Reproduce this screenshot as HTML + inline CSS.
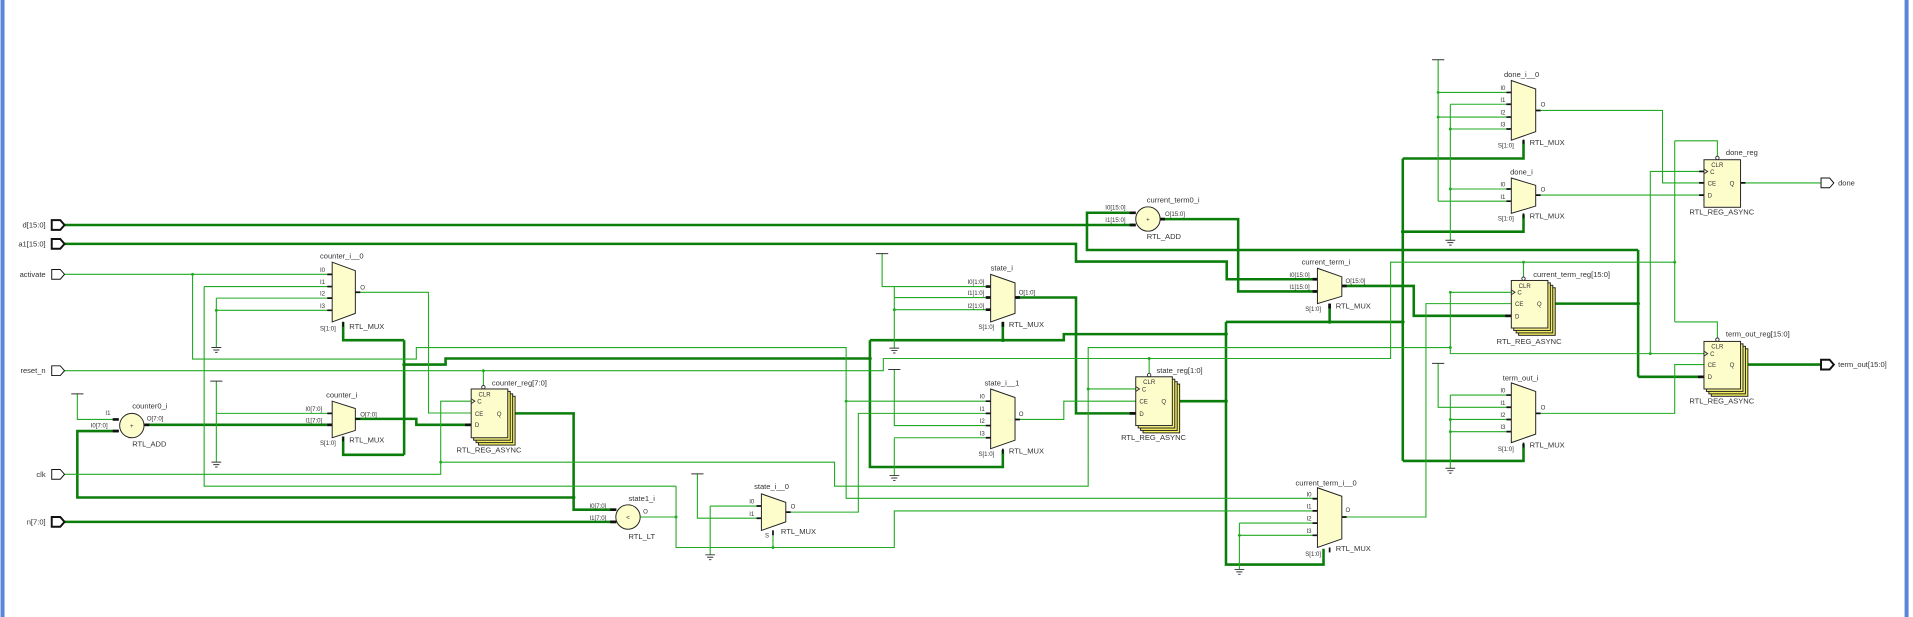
<!DOCTYPE html>
<html><head><meta charset="utf-8"><style>
html,body{margin:0;padding:0;background:#fff;width:1913px;height:617px;overflow:hidden}
svg{display:block}
text{font-family:"Liberation Sans",sans-serif;fill:#333}
.t{fill:none;stroke:#22ab22;stroke-width:0.9}
.k{fill:none;stroke:#0b7d0b;stroke-width:2.1}
.m{fill:#fdfdcc;stroke:#222;stroke-width:0.8}
.p{stroke:#111;stroke-width:1.4}
.pk{stroke:#111;stroke-width:2.2}
.s{font-size:5px}
.l{font-size:6.2px}
.g{fill:none;stroke:#333;stroke-width:0.8}
.j{fill:#0b7d0b}
.jt{fill:#22ab22}
</style></head><body>
<svg width="1913" height="617" viewBox="0 0 1568 506" xmlns="http://www.w3.org/2000/svg">
<rect x="0" y="0" width="1568" height="506" fill="#fff"/>
<rect x="0" y="0" width="3.3" height="506" fill="#5a86d8"/>
<rect x="1561.5" y="0" width="3.3" height="506" fill="#5a86d8"/>

<!-- thick nets -->
<path class="k" d="M52 184.5H931"/>
<path class="k" d="M1272 249H1343M1343 205V309M1343 205H891V174.5H931M1343 309H1397"/>
<path class="k" d="M951 179.7H1015V239H1080"/>
<path class="k" d="M52 200H882V214.5H1005.6V229H1080"/>
<path class="k" d="M1100 234.5H1159V259H1239"/>
<path class="k" d="M961 329H1005M1005 264V463H1085V450M1005 264H1150M1090 249V264M1150 130V378M1150 130H1249V115M1150 190H1249V176M1150 378H1249V364M1005 274H872V279H713M822 264V279M713 279V383H822V369M713 294H365V299H331M331 279V373M331 279H281V264M331 373H281V358"/>
<path class="k" d="M416 339H470V418H505M470 408H63V353.5H97"/>
<path class="k" d="M118 348.4H272"/>
<path class="k" d="M291 343.5H341V348.4H386"/>
<path class="k" d="M52 428H505"/>
<path class="k" d="M832 244H882V339H931"/>
<path class="k" d="M1432 299H1493"/>
<g class="j">
<circle cx="1005" cy="329" r="1.5"/><circle cx="1005" cy="274" r="1.5"/><circle cx="1150" cy="264" r="1.5"/><circle cx="1090" cy="264" r="1.5"/><circle cx="1150" cy="190" r="1.5"/><circle cx="822" cy="279" r="1.5"/><circle cx="713" cy="294" r="1.5"/><circle cx="331" cy="299" r="1.5"/><circle cx="470" cy="408" r="1.5"/><circle cx="1343" cy="249" r="1.5"/>
</g>

<!-- thin nets -->
<path class="t" d="M52 225H272M157.5 225V294.5H341V285H693.5V408.7H1080M693.5 329H812"/>
<path class="t" d="M167 235H272M167 235V398.7H554M554 398.7V449H733V419H1080M525 424H554M633.5 449V435"/>
<path class="t" d="M177 244.5H272M177 254.5H272M177 244.5V285"/>
<path class="t" d="M291 239.7H351V338.7H386"/>
<path class="t" d="M52 304H724V294H1140V215H1373M396 304V318M942 294V307M1249 215V228M1373 115.5V264M1373 115.5H1408V128M1373 264H1408V278"/>
<path class="t" d="M52 389H361V329H386M361 379H684V398.7H892V285H1189M892 319H931M1189 239.7V290H1397M1189 239.7H1239M1353 290V140.6H1397"/>
<path class="t" d="M177 312.6V379M177 339H272"/>
<path class="t" d="M63 323V344H97"/>
<path class="t" d="M571.5 388.6V425H624M582 415H624M582 415V455"/>
<path class="t" d="M644 420H703.5V339H812"/>
<path class="t" d="M733 303V349H812M733 359H812M733 359V390"/>
<path class="t" d="M832 344H872V329H931"/>
<path class="t" d="M723 208V235H812M733 244H812M733 254H812M733 235V285.5"/>
<path class="t" d="M1016 429H1080M1016 439H1080M1016 429V467"/>
<path class="t" d="M1100 424H1169V249H1239"/>
<path class="t" d="M1179 49V165M1179 75.8H1239M1179 96H1239M1179 165H1239M1189 85.5V197M1189 85.5H1239M1189 105.8H1239M1189 155H1239"/>
<path class="t" d="M1259 90.6H1363V150H1397M1259 160H1397M1427 150H1493"/>
<path class="t" d="M1179 298V334H1239M1189 324V384M1189 324H1239M1189 344H1239M1189 354H1239"/>
<path class="t" d="M1259 339H1373V299H1397"/>
<g class="jt">
<circle cx="157.5" cy="225" r="1.2"/><circle cx="693.5" cy="329" r="1.2"/><circle cx="554" cy="424" r="1.2"/><circle cx="633.5" cy="449" r="1.2"/><circle cx="177" cy="254.5" r="1.2"/><circle cx="396" cy="304" r="1.2"/><circle cx="942" cy="294" r="1.2"/><circle cx="1249" cy="215" r="1.2"/><circle cx="1373" cy="215" r="1.2"/><circle cx="361" cy="379" r="1.2"/><circle cx="892" cy="319" r="1.2"/><circle cx="1189" cy="285" r="1.2"/><circle cx="1353" cy="290" r="1.2"/><circle cx="733" cy="254" r="1.2"/><circle cx="1016" cy="439" r="1.2"/><circle cx="1179" cy="75.8" r="1.2"/><circle cx="1179" cy="96" r="1.2"/><circle cx="1189" cy="105.8" r="1.2"/><circle cx="1189" cy="155" r="1.2"/><circle cx="1189" cy="344" r="1.2"/><circle cx="1189" cy="354" r="1.2"/><circle cx="1189" cy="239.7" r="1.2"/>
</g>

<!-- constants (T) and grounds -->
<g class="g">
<path d="M58 323H68M172 312.6H182M566.5 388.6H576.5M728 303H738M718 208H728M1174 49H1184M1174 298H1184"/>
<path d="M173 285H181M174.5 287H179.5M176 289H178"/>
<path d="M173 379H181M174.5 381H179.5M176 383H178"/>
<path d="M578 455H586M579.5 457H584.5M581 459H583"/>
<path d="M729 390H737M730.5 392H735.5M732 394H734"/>
<path d="M729 285.5H737M730.5 287.5H735.5M732 289.5H734"/>
<path d="M1012 467H1020M1013.5 469H1018.5M1015 471H1017"/>
<path d="M1185 197H1193M1186.5 199H1191.5M1188 201H1190"/>
<path d="M1185 384H1193M1186.5 386H1191.5M1188 388H1190"/>
</g>

<!-- ports -->
<g fill="#fff" stroke="#111">
<path stroke-width="1.6" d="M42 180.5H49L52.5 184.5L49 188.5H42Z"/>
<path stroke-width="1.6" d="M42 196H49L52.5 200L49 204H42Z"/>
<path stroke-width="0.8" d="M42 221H49L52.5 225L49 229H42Z"/>
<path stroke-width="0.8" d="M42 300H49L52.5 304L49 308H42Z"/>
<path stroke-width="0.8" d="M42 385H49L52.5 389L49 393H42Z"/>
<path stroke-width="1.6" d="M42 424H49L52.5 428L49 432H42Z"/>
<path stroke-width="0.8" d="M1493 146H1500L1503.5 150L1500 154H1493Z"/>
<path stroke-width="1.6" d="M1493 295H1500L1503.5 299L1500 303H1493Z"/>
</g>
<g class="l" text-anchor="end">
<text x="37" y="186.5">d[15:0]</text><text x="37" y="202">a1[15:0]</text><text x="37" y="227">activate</text><text x="37" y="306">reset_n</text><text x="37" y="391">clk</text><text x="37" y="430">n[7:0]</text>
</g>
<text class="l" x="1507" y="152">done</text>
<text class="l" x="1507" y="301">term_out[15:0]</text>

<!-- pin stubs -->
<g class="p">
<path d="M268 225H272M268 235H272M268 244.5H272M268 254.5H272M291 239.7H295M281 264V268"/>
<path d="M268 339H272M291 343.5H295M281 358V362"/>
<path d="M808 329H812M808 339H812M808 349H812M808 359H812M832 344H836M822 368V372"/>
<path d="M620 415H624M620 425H624M644 420H648M633.5 435V439"/>
<path d="M1076 409H1080M1076 419H1080M1076 429H1080M1076 439H1080M1100 424H1104M1090 449V453"/>
<path d="M1235 75.8H1239M1235 85.5H1239M1235 96H1239M1235 105.8H1239M1259 90.6H1263M1249 114.5V118"/>
<path d="M1235 155H1239M1235 165H1239M1259 160H1263M1249 175V179"/>
<path d="M1235 324H1239M1235 334H1239M1235 344H1239M1235 354H1239M1259 339H1263M1249 363V367"/>
<path d="M1393 140.6H1397M1393 150H1397M1393 160H1397M1427 150H1431"/>
</g>
<g class="pk">
<path d="M268 348.4H272M808 235H812M808 244H812M808 254H812M832 244H836M822 264V268M1076 229H1080M1076 239H1080M1100 234.5H1104M1090 249V253"/>
<path d="M92 344H97M92 353.5H97M118 348.4H122M500 418H505M500 428H505M381 348.4H386M926 174.5H931M926 184.5H931M951 179.7H955"/>
<path d="M926 339H931M961 329H965M1234 259H1239M1269 249H1274M1392 309H1397M1427 299H1432M416 339H420"/>
</g>

<!-- muxes -->
<g class="m">
<polygon points="272,215 291,222 291,257 272,264"/>
<polygon points="272,329 291,335 291,353 272,359"/>
<polygon points="624,405 644,412 644,428 624,435"/>
<polygon points="812,225 832,232 832,257 812,264"/>
<polygon points="812,319 832,326 832,361 812,368"/>
<polygon points="1080,220 1100,227 1100,243 1080,249"/>
<polygon points="1080,400 1100,407 1100,442 1080,449"/>
<polygon points="1239,66 1259,73 1259,108 1239,115"/>
<polygon points="1239,146 1259,152 1259,169 1239,175"/>
<polygon points="1239,314 1259,321 1259,356 1239,363"/>
<circle cx="107.7" cy="349" r="10"/>
<circle cx="514.6" cy="424" r="10"/>
<circle cx="941" cy="179.6" r="10"/>
</g>
<g class="s" text-anchor="middle">
<text x="107.7" y="351">+</text><text x="514.6" y="426">&lt;</text><text x="941" y="181.5">+</text>
</g>

<!-- registers -->
<g stroke="#222" stroke-width="0.8">
<rect x="392" y="325" width="30" height="40" fill="#f5f060"/><rect x="390" y="323" width="30" height="40" fill="#f5f060"/><rect x="388" y="321" width="30" height="40" fill="#f8f480"/><rect x="386" y="319" width="30" height="40" fill="#fdfdcc"/>
<rect x="937" y="315" width="30" height="40" fill="#f5f060"/><rect x="935" y="313" width="30" height="40" fill="#f5f060"/><rect x="933" y="311" width="30" height="40" fill="#f8f480"/><rect x="931" y="309" width="30" height="40" fill="#fdfdcc"/>
<rect x="1245" y="236" width="30" height="39" fill="#f5f060"/><rect x="1243" y="234" width="30" height="39" fill="#f5f060"/><rect x="1241" y="232" width="30" height="39" fill="#f8f480"/><rect x="1239" y="230" width="30" height="39" fill="#fdfdcc"/>
<rect x="1397" y="131" width="30" height="39" fill="#fdfdcc"/>
<rect x="1403" y="286" width="30" height="39" fill="#f5f060"/><rect x="1401" y="284" width="30" height="39" fill="#f5f060"/><rect x="1399" y="282" width="30" height="39" fill="#f8f480"/><rect x="1397" y="280" width="30" height="39" fill="#fdfdcc"/>
</g>
<g fill="#fff" stroke="#222" stroke-width="0.7">
<circle cx="396" cy="317.5" r="1.4"/><circle cx="942" cy="307.5" r="1.4"/><circle cx="1249" cy="228.5" r="1.4"/><circle cx="1408" cy="129.5" r="1.4"/><circle cx="1408" cy="278.5" r="1.4"/>
</g>
<g class="g">
<path d="M386 327L389 329L386 331M931 317L934 319L931 321M1239 237.7L1242 239.7L1239 241.7M1397 138.6L1400 140.6L1397 142.6M1397 288L1400 290L1397 292"/>
</g>
<g class="s">
<text x="392" y="325">CLR</text><text x="391" y="331">C</text><text x="389" y="341">CE</text><text x="389" y="350">D</text><text x="407" y="341">Q</text>
<text x="937" y="315">CLR</text><text x="936" y="321">C</text><text x="934" y="331">CE</text><text x="934" y="341">D</text><text x="952" y="331">Q</text>
<text x="1245" y="236">CLR</text><text x="1244" y="241.7">C</text><text x="1242" y="251">CE</text><text x="1242" y="261">D</text><text x="1260" y="251">Q</text>
<text x="1403" y="137">CLR</text><text x="1402" y="142.6">C</text><text x="1400" y="152">CE</text><text x="1400" y="162">D</text><text x="1418" y="152">Q</text>
<text x="1403" y="286">CLR</text><text x="1402" y="292">C</text><text x="1400" y="301">CE</text><text x="1400" y="311">D</text><text x="1418" y="301">Q</text>
</g>

<!-- pin labels -->
<g class="s">
<text x="262" y="223">I0</text><text x="262" y="233">I1</text><text x="262" y="242.5">I2</text><text x="262" y="252.5">I3</text><text x="295" y="237.5">O</text><text x="262" y="271">S[1:0]</text>
<text x="250" y="337">I0[7:0]</text><text x="250" y="346.5">I1[7:0]</text><text x="295" y="341.5">O[7:0]</text><text x="262" y="365">S[1:0]</text>
<text x="86" y="340.5">I1</text><text x="74" y="350.5">I0[7:0]</text><text x="120" y="345">O[7:0]</text>
<text x="483" y="416.5">I0[7:0]</text><text x="483" y="426.5">I1[7:0]</text><text x="527" y="421">O</text>
<text x="614" y="413">I0</text><text x="614" y="423">I1</text><text x="648" y="417">O</text><text x="627" y="441">S</text>
<text x="793" y="233">I0[1:0]</text><text x="793" y="242">I1[1:0]</text><text x="793" y="252.5">I2[1:0]</text><text x="835" y="241.5">O[1:0]</text><text x="802" y="270">S[1:0]</text>
<text x="803" y="327">I0</text><text x="803" y="337">I1</text><text x="803" y="347">I2</text><text x="803" y="357">I3</text><text x="835" y="341">O</text><text x="802" y="374">S[1:0]</text>
<text x="906" y="172">I0[15:0]</text><text x="906" y="182">I1[15:0]</text><text x="955" y="177">O[15:0]</text>
<text x="1057" y="227">I0[15:0]</text><text x="1057" y="237">I1[15:0]</text><text x="1103" y="232">O[15:0]</text><text x="1070" y="255">S[1:0]</text>
<text x="1071" y="407">I0</text><text x="1071" y="417">I1</text><text x="1071" y="427">I2</text><text x="1071" y="437">I3</text><text x="1103" y="420">O</text><text x="1070" y="456">S[1:0]</text>
<text x="1230" y="73.8">I0</text><text x="1230" y="83.5">I1</text><text x="1230" y="94">I2</text><text x="1230" y="103.8">I3</text><text x="1263" y="87.5">O</text><text x="1228" y="121">S[1:0]</text>
<text x="1230" y="153">I0</text><text x="1230" y="163">I1</text><text x="1263" y="157">O</text><text x="1228" y="181">S[1:0]</text>
<text x="1230" y="322">I0</text><text x="1230" y="332">I1</text><text x="1230" y="342">I2</text><text x="1230" y="352">I3</text><text x="1263" y="336">O</text><text x="1228" y="370">S[1:0]</text>
</g>

<!-- instance labels -->
<g class="l">
<text x="262" y="212">counter_i__0</text><text x="286" y="270">RTL_MUX</text>
<text x="267" y="326">counter_i</text><text x="286" y="363">RTL_MUX</text>
<text x="108" y="335">counter0_i</text><text x="108" y="366">RTL_ADD</text>
<text x="403" y="316">counter_reg[7:0]</text><text x="374" y="371">RTL_REG_ASYNC</text>
<text x="515" y="411">state1_i</text><text x="515" y="442">RTL_LT</text>
<text x="618" y="401">state_i__0</text><text x="640" y="438">RTL_MUX</text>
<text x="812" y="222">state_i</text><text x="827" y="268">RTL_MUX</text>
<text x="807" y="316">state_i__1</text><text x="827" y="372">RTL_MUX</text>
<text x="940" y="166">current_term0_i</text><text x="940" y="196">RTL_ADD</text>
<text x="948" y="306">state_reg[1:0]</text><text x="919" y="361">RTL_REG_ASYNC</text>
<text x="1067" y="217">current_term_i</text><text x="1095" y="253">RTL_MUX</text>
<text x="1062" y="398">current_term_i__0</text><text x="1095" y="452">RTL_MUX</text>
<text x="1257" y="227">current_term_reg[15:0]</text><text x="1227" y="282">RTL_REG_ASYNC</text>
<text x="1233" y="63">done_i__0</text><text x="1254" y="119">RTL_MUX</text>
<text x="1238" y="143">done_i</text><text x="1254" y="179">RTL_MUX</text>
<text x="1232" y="312">term_out_i</text><text x="1254" y="367">RTL_MUX</text>
<text x="1415" y="127">done_reg</text><text x="1385" y="176">RTL_REG_ASYNC</text>
<text x="1415" y="276">term_out_reg[15:0]</text><text x="1385" y="331">RTL_REG_ASYNC</text>
</g>
</svg>
</body></html>
